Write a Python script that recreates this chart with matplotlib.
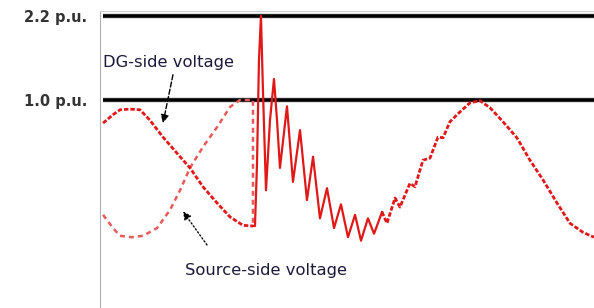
import matplotlib
matplotlib.use("Agg")
import matplotlib.pyplot as plt

plt.rcParams['font.family'] = ['DejaVu Sans']

# reference levels (p.u.)
levels = [2.2, 1.0]
level_labels = ["2.2 p.u.", "1.0 p.u."]

# DG-side voltage before the event (time ms, voltage p.u.)
dg_t = [0.29, 1.24, 1.90, 2.86, 3.81, 4.76, 6.00, 7.33, 8.57, 9.81, 11.14, 12.38, 13.62, 14.57]
dg_v = [0.67, 0.79, 0.86, 0.87, 0.86, 0.71, 0.47, 0.24, 0.03, -0.24, -0.47, -0.67, -0.79, -0.80]

# Source-side voltage before the event
src_t = [0.29, 1.24, 1.90, 3.05, 4.10, 5.43, 6.67, 7.62, 8.57, 9.81, 11.14, 12.38, 13.33, 14.57, 14.57]
src_v = [-0.64, -0.83, -0.94, -0.96, -0.94, -0.83, -0.57, -0.29, 0.03, 0.33, 0.61, 0.90, 1.00, 1.00, -0.80]

# Voltage after the event (transient)
post_t = [14.57, 14.76, 14.95, 15.14, 15.33, 15.52, 15.81, 16.19, 16.57, 16.86, 17.14, 17.81, 18.38,
          19.05, 19.71, 20.29, 20.95, 21.62, 22.29, 22.95, 23.62, 24.29, 24.86, 25.52, 26.10,
          26.86, 27.33, 28.10, 28.57, 29.52, 30.00, 30.76, 31.43, 32.19, 32.67, 33.33, 34.29,
          35.24, 36.19, 37.14, 38.38, 39.71, 40.95, 42.19, 43.52, 44.76, 46.00, 47.05]
post_v = [-0.80, -0.80, 0.07, 1.57, 2.20, 1.14, -0.29, 0.71, 1.30, 0.71, 0.03, 0.91, -0.17,
          0.57, -0.43, 0.19, -0.69, -0.26, -0.83, -0.49, -0.96, -0.64, -1.01, -0.69, -0.91,
          -0.60, -0.76, -0.40, -0.53, -0.19, -0.24, 0.14, 0.17, 0.47, 0.46, 0.69, 0.83,
          0.96, 0.99, 0.89, 0.69, 0.46, 0.14, -0.14, -0.47, -0.76, -0.89, -0.96]
split = 25  # index where the transient settles

W, H = 594, 308
fig = plt.figure(figsize=(W / 100, H / 100), dpi=100)
ax = fig.add_axes([100 / W, 0, 1 - 100 / W, (H - 11) / H])
ax.set_xlim(0, 47.05)
ax.set_ylim(-1.971, 2.271)
ax.set_xticks([])
ax.set_yticks([])
for s in ['right', 'bottom']:
    ax.spines[s].set_visible(False)
ax.spines['left'].set_color('#b0b0b0')
ax.spines['top'].set_color('#d0d0d0')

ax.hlines(levels, 0.29, 47.05, colors='black', lw=2.6, zorder=2)
ax.hlines(levels, 0.29, 47.05, colors='#888888', lw=4.0, alpha=0.35, zorder=1)
for lv, lab in zip(levels, level_labels):
    ax.text(-1.24, lv - 0.02, lab, ha='right', va='center', fontsize=10.5, fontweight='bold',
            color='#333333', clip_on=False)

red = '#e01818'
ax.plot(src_t, src_v, color='#e85a5a', lw=1.8, ls=(0, (2, 1.6)), zorder=3)
ax.plot(dg_t, dg_v, color=red, lw=2.0, ls=(0, (1.6, 0.7)), zorder=4)
ax.plot(post_t[:split + 1], post_v[:split + 1], color=red, lw=1.6, zorder=4)
ax.plot(post_t[split:], post_v[split:], color=red, lw=2.0, ls=(0, (1.6, 0.7)), zorder=4)

ax.annotate("", xy=(6.0, 0.67), xytext=(6.95, 1.36),
            arrowprops=dict(arrowstyle='-|>', color='black', lw=1.0, ls='--',
                            mutation_scale=12, shrinkA=0, shrinkB=0))
ax.text(0.29, 1.53, "DG-side voltage", ha='left', va='center', fontsize=11.8, color='#1a1a3a')

ax.annotate("", xy=(7.90, -0.59), xytext=(10.19, -1.07),
            arrowprops=dict(arrowstyle='-|>', color='black', lw=1.0, ls=':',
                            mutation_scale=12, shrinkA=0, shrinkB=0))
ax.text(8.1, -1.43, "Source-side voltage", ha='left', va='center', fontsize=11.8, color='#1a1a3a')

fig.savefig("out.png", dpi=100)
